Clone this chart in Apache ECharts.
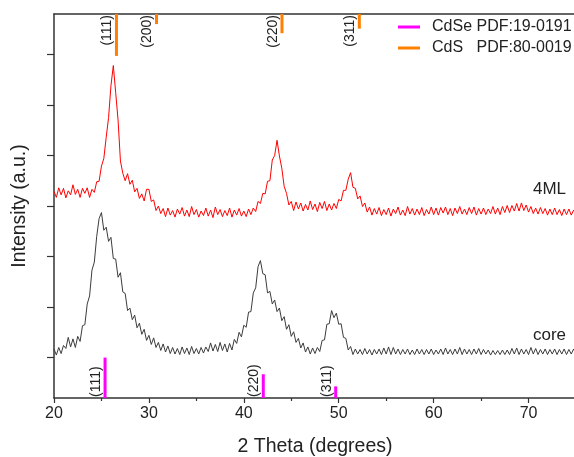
<!DOCTYPE html>
<html><head><meta charset="utf-8">
<script src="https://cdn.jsdelivr.net/npm/echarts@6/dist/echarts.min.js"></script>
<style>html,body{margin:0;padding:0;background:#fff}#c{width:574px;height:457px}</style>
</head><body><div id="c"></div><script>
// 2θ sampling (degrees)
const twoTheta = [20,20.25,20.5,20.75,21,21.25,21.5,21.75,22,22.25,22.5,22.75,23,23.25,23.5,23.75,24,24.25,24.5,24.75,
25,25.25,25.5,25.75,26,26.25,26.5,26.75,27,27.25,27.5,27.75,28,28.25,28.5,28.75,29,29.25,29.5,29.75,
30,30.25,30.5,30.75,31,31.25,31.5,31.75,32,32.25,32.5,32.75,33,33.25,33.5,33.75,34,34.25,34.5,34.75,
35,35.25,35.5,35.75,36,36.25,36.5,36.75,37,37.25,37.5,37.75,38,38.25,38.5,38.75,39,39.25,39.5,39.75,
40,40.25,40.5,40.75,41,41.25,41.5,41.75,42,42.25,42.5,42.75,43,43.25,43.5,43.75,44,44.25,44.5,44.75,
45,45.25,45.5,45.75,46,46.25,46.5,46.75,47,47.25,47.5,47.75,48,48.25,48.5,48.75,49,49.25,49.5,49.75,
50,50.25,50.5,50.75,51,51.25,51.5,51.75,52,52.25,52.5,52.75,53,53.25,53.5,53.75,54,54.25,54.5,54.75,
55,55.25,55.5,55.75,56,56.25,56.5,56.75,57,57.25,57.5,57.75,58,58.25,58.5,58.75,59,59.25,59.5,59.75,
60,60.25,60.5,60.75,61,61.25,61.5,61.75,62,62.25,62.5,62.75,63,63.25,63.5,63.75,64,64.25,64.5,64.75,
65,65.25,65.5,65.75,66,66.25,66.5,66.75,67,67.25,67.5,67.75,68,68.25,68.5,68.75,69,69.25,69.5,69.75,
70,70.25,70.5,70.75,71,71.25,71.5,71.75,72,72.25,72.5,72.75,73,73.25,73.5,73.75,74,74.25,74.5,74.75,75];

// 4ML (offset trace)
const ml4 = [3.29,3.17,3.36,3.22,3.35,3.16,3.30,3.22,3.42,3.23,3.33,3.17,3.35,3.25,3.36,3.17,3.33,3.27,3.48,3.49,
3.79,3.94,4.36,4.75,5.38,5.78,5.24,4.70,3.89,3.65,3.50,3.64,3.43,3.51,3.28,3.35,3.15,3.24,3.10,3.33,
3.33,3.09,3.12,2.91,3.00,2.85,2.95,2.79,2.96,2.82,2.91,2.78,2.94,2.84,2.97,2.80,2.92,2.79,2.99,2.83,
2.93,2.78,2.90,2.81,2.96,2.80,2.92,2.77,2.98,2.83,2.93,2.79,2.91,2.81,2.96,2.78,2.92,2.82,2.95,2.80,
2.90,2.79,2.94,2.83,2.96,2.89,3.09,3.05,3.25,3.24,3.49,3.50,3.91,4.00,4.30,3.99,3.75,3.39,3.25,3.02,
3.09,2.91,3.08,2.94,3.06,2.90,3.03,2.92,3.10,2.93,3.04,2.89,3.07,2.95,3.09,2.91,3.04,2.92,3.05,2.95,
3.13,3.10,3.31,3.31,3.53,3.66,3.37,3.35,3.14,3.20,2.99,3.06,2.88,2.98,2.82,2.95,2.84,2.97,2.81,2.93,
2.83,2.96,2.80,2.94,2.85,2.98,2.82,2.92,2.81,2.99,2.84,2.95,2.82,2.94,2.83,2.97,2.81,2.93,2.84,2.98,
2.83,2.96,2.82,2.97,2.86,2.98,2.83,2.95,2.81,2.96,2.85,2.99,2.84,2.94,2.83,2.97,2.85,2.98,2.82,2.95,
2.84,2.96,2.83,2.94,2.85,2.99,2.84,2.96,2.83,2.99,2.87,3.01,2.87,3.01,2.90,3.05,2.90,3.06,2.91,3.02,
2.88,2.99,2.85,2.96,2.84,2.97,2.85,2.95,2.82,2.94,2.83,2.96,2.83,2.93,2.81,2.94,2.83,2.94,2.82,2.92,2.83];

// core trace
const core = [0.17,0.05,0.20,0.08,0.24,0.18,0.40,0.21,0.37,0.20,0.42,0.32,0.63,0.65,1.06,1.22,1.73,1.89,2.40,2.75,
2.87,2.52,2.58,2.30,2.38,1.96,1.95,1.59,1.68,1.30,1.27,0.93,0.98,0.75,0.84,0.59,0.68,0.46,0.56,0.34,
0.44,0.26,0.39,0.20,0.30,0.14,0.27,0.11,0.23,0.08,0.20,0.07,0.18,0.06,0.21,0.08,0.19,0.06,0.22,0.08,
0.18,0.07,0.20,0.09,0.21,0.12,0.29,0.13,0.26,0.12,0.30,0.14,0.27,0.11,0.28,0.15,0.36,0.28,0.50,0.41,
0.64,0.60,0.90,0.91,1.28,1.38,1.80,1.92,1.66,1.64,1.28,1.31,1.06,1.14,0.91,0.98,0.73,0.81,0.56,0.65,
0.42,0.51,0.30,0.38,0.19,0.29,0.11,0.21,0.07,0.19,0.08,0.20,0.12,0.34,0.35,0.66,0.67,0.93,0.79,0.88,
0.66,0.67,0.40,0.38,0.15,0.22,0.06,0.17,0.07,0.16,0.06,0.18,0.07,0.16,0.05,0.16,0.07,0.17,0.06,0.19,
0.07,0.21,0.06,0.20,0.07,0.17,0.06,0.16,0.07,0.17,0.06,0.15,0.06,0.17,0.07,0.16,0.06,0.16,0.07,0.17,
0.06,0.15,0.07,0.17,0.06,0.19,0.07,0.16,0.06,0.17,0.07,0.20,0.06,0.17,0.07,0.16,0.06,0.17,0.07,0.18,
0.06,0.16,0.07,0.15,0.05,0.14,0.06,0.14,0.06,0.15,0.06,0.15,0.06,0.18,0.07,0.19,0.06,0.17,0.07,0.16,
0.06,0.20,0.07,0.18,0.06,0.16,0.07,0.17,0.06,0.16,0.07,0.17,0.06,0.16,0.07,0.17,0.06,0.16,0.07,0.17,0.06];

// reference patterns
const cdseName = 'CdSe PDF:19-0191';
const cdsePos = [25.38, 42.05, 49.68];
const cdseTop = [0.0, -0.33, -0.57];
const cdseHkl = ['(111)', '(220)', '(311)'];
const cdsName = 'CdS   PDF:80-0019';
const cdsPos = [26.58, 30.80, 44.02, 52.17];
const cdsBottom = [5.97, 6.60, 6.42, 6.51];
const cdsHkl = ['(111)', '(200)', '(220)', '(311)'];

// axes
const xMin = 20, xMax = 75, xStep = 10;
const yMin = -0.8, yMax = 6.8;
const yTicks = [0, 1, 2, 3, 4, 5, 6];

// curve annotations
const curveNames = ['4ML', 'core'];
const curveLabelX = [73.95, 73.95];
const curveLabelY = [3.17, 0.27];

const FONT = '"Liberation Sans", Arial, sans-serif';
const chart = echarts.init(document.getElementById('c'), null, {renderer: 'canvas'});

function refRender(color, isTop, labels) {
  return function (params, api) {
    const x = api.value(0), y = api.value(1);
    const end = api.coord([x, y]);
    const base = api.coord([x, isTop ? yMax : yMin]);
    return {
      type: 'group',
      children: [
        {type: 'line', shape: {x1: end[0], y1: end[1], x2: base[0], y2: base[1]},
         style: {stroke: color, lineWidth: 3}},
        {type: 'text', x: base[0] - 9, y: base[1] + (isTop ? 1 : -1), rotation: Math.PI / 2,
         style: {text: labels[params.dataIndex], fill: '#222', fontSize: 14, fontFamily: FONT,
                 align: isTop ? 'right' : 'left', verticalAlign: 'middle'}}
      ]
    };
  };
}

const option = {
  animation: false,
  backgroundColor: '#fff',
  grid: {left: 54, right: -2, top: 14, bottom: 59, containLabel: false, outerBoundsMode: 'none'},
  legend: {
    orient: 'vertical', left: 398, top: 19, padding: 0, itemGap: 5, itemWidth: 22, itemHeight: 3,
    icon: 'rect', selectedMode: false,
    data: [cdseName, cdsName],
    textStyle: {fontSize: 16, color: '#222', fontFamily: FONT, padding: [0, 0, 0, 7]}
  },
  xAxis: [{
    type: 'value', min: xMin, max: xMax, interval: xStep, position: 'bottom',
    name: '2 Theta (degrees)', nameLocation: 'middle', nameGap: 39,
    nameTextStyle: {fontSize: 19.5, color: '#222', fontFamily: FONT},
    axisLine: {show: true, onZero: false, lineStyle: {color: '#333', width: 1.5}},
    axisTick: {show: true, length: 5, lineStyle: {color: '#333', width: 1.2}},
    minorTick: {show: true, splitNumber: 2, length: 3, lineStyle: {color: '#333', width: 1.2}},
    splitLine: {show: false},
    axisLabel: {fontSize: 16, color: '#222', fontFamily: FONT, margin: 8, showMaxLabel: false}
  }, {
    type: 'value', min: xMin, max: xMax, position: 'top',
    axisLine: {show: true, onZero: false, lineStyle: {color: '#333', width: 1.5}},
    axisTick: {show: false}, axisLabel: {show: false}, splitLine: {show: false}
  }],
  yAxis: {
    type: 'value', min: yMin, max: yMax,
    name: 'Intensity (a.u.)', nameLocation: 'middle', nameGap: 24,
    nameTextStyle: {fontSize: 19.5, color: '#222', fontFamily: FONT},
    axisLine: {show: true, onZero: false, lineStyle: {color: '#333', width: 1.5}},
    axisTick: {show: true, length: 7, customValues: yTicks, lineStyle: {color: '#333', width: 1.2}},
    axisLabel: {show: false},
    splitLine: {show: false}
  },
  series: [
    {
      name: '4ML', type: 'line', data: twoTheta.map((x, i) => [x, ml4[i]]),
      showSymbol: false, symbol: 'none', silent: true,
      lineStyle: {color: '#ff0000', width: 1}, z: 3
    },
    {
      name: 'core', type: 'line', data: twoTheta.map((x, i) => [x, core[i]]),
      showSymbol: false, symbol: 'none', silent: true,
      lineStyle: {color: '#3c3c3c', width: 1}, z: 3
    },
    {
      name: cdseName, type: 'custom', silent: true,
      itemStyle: {color: '#ff00ff'},
      data: cdsePos.map((x, i) => [x, cdseTop[i]]),
      renderItem: refRender('#ff00ff', false, cdseHkl), z: 4
    },
    {
      name: cdsName, type: 'custom', silent: true,
      itemStyle: {color: '#ff8000'},
      data: cdsPos.map((x, i) => [x, cdsBottom[i]]),
      renderItem: refRender('#ff8000', true, cdsHkl), z: 4
    },
    {
      name: 'curveLabels', type: 'custom', silent: true,
      data: curveNames.map((n, i) => [curveLabelX[i], curveLabelY[i]]),
      renderItem: function (params, api) {
        const p = api.coord([api.value(0), api.value(1)]);
        return {type: 'text', x: p[0], y: p[1],
          style: {text: curveNames[params.dataIndex], fill: '#222', fontSize: 17, fontFamily: FONT,
                  align: 'right', verticalAlign: 'bottom'}};
      }, z: 5
    }
  ]
};
chart.setOption(option);
</script></body></html>
